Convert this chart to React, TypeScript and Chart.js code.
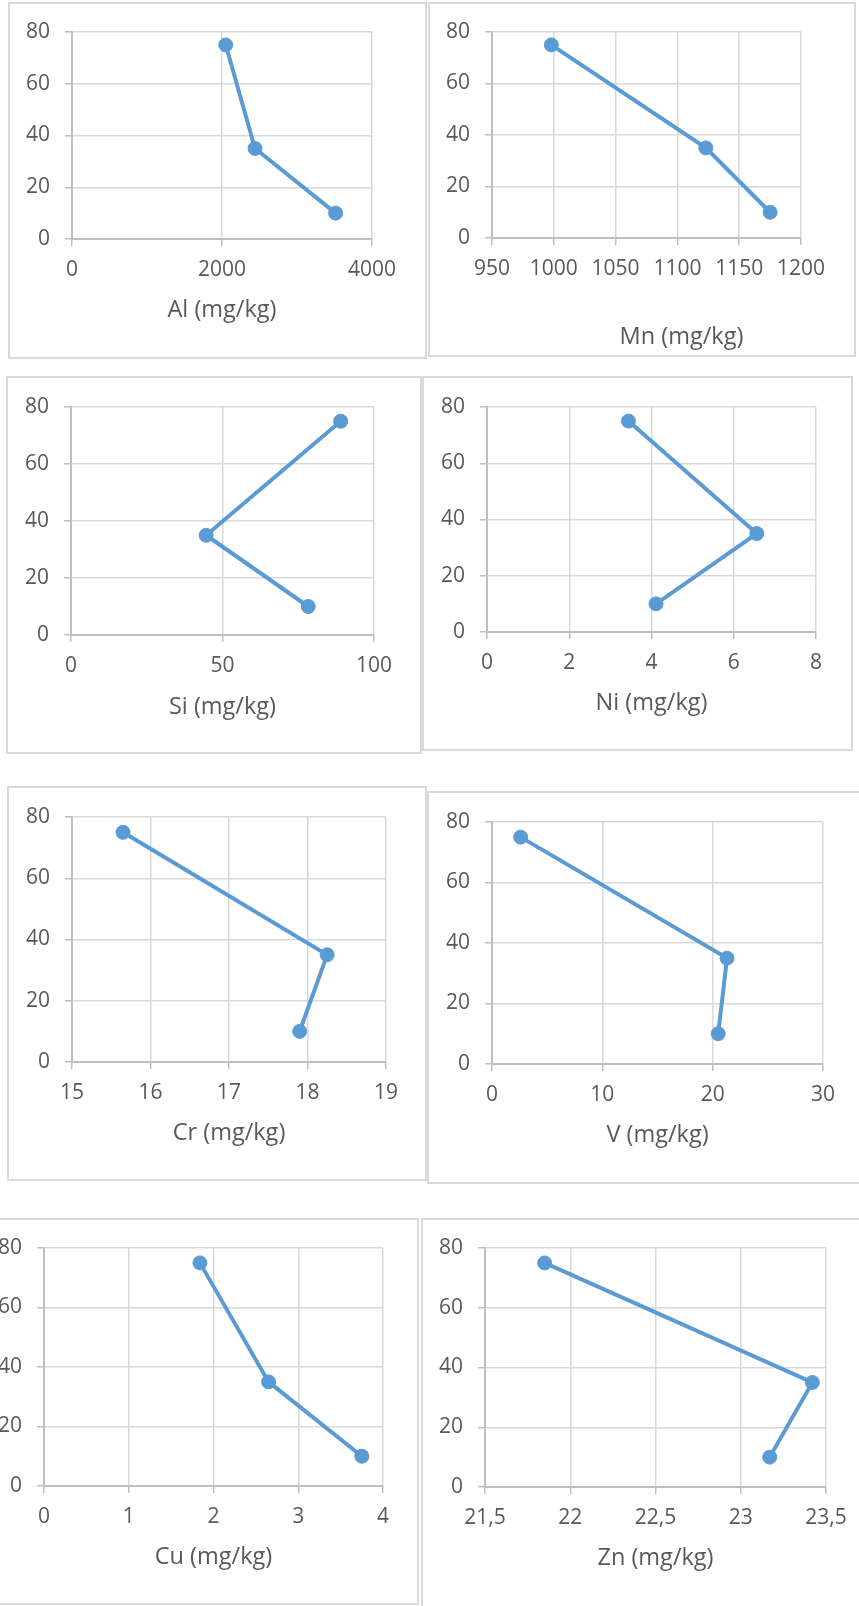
import React, { useEffect, useRef } from "react";
import { Chart, registerables } from "chart.js";

Chart.register(...registerables);

// ---- data ----
const depth = [75, 35, 10];
const depthTicks = [0, 20, 40, 60, 80];

const alValues = [2050, 2440, 3515];
const mnValues = [998, 1123, 1175];
const siValues = [89, 44.6, 78.3];
const niValues = [3.44, 6.56, 4.11];
const crValues = [15.65, 18.25, 17.9];
const vValues = [2.6, 21.3, 20.5];
const cuValues = [1.84, 2.65, 3.75];
const znValues = [21.85, 23.42, 23.17];

const alTicks = [0, 2000, 4000];
const mnTicks = [950, 1000, 1050, 1100, 1150, 1200];
const siTicks = [0, 50, 100];
const niTicks = [0, 2, 4, 6, 8];
const crTicks = [15, 16, 17, 18, 19];
const vTicks = [0, 10, 20, 30];
const cuTicks = [0, 1, 2, 3, 4];
const znTicks = [21.5, 22, 22.5, 23, 23.5];

// ---- styles ----
const BLUE = "#5B9BD5";
const TEXT = "#595959";
const GRID = "#d9d9d9";
const AXIS = "#bfbfbf";
const FONT = '"Open Sans", "Noto Sans", sans-serif';

type PanelCfg = {
  title: string;
  values: number[];
  xTicks: number[];
  box: number[]; // left, top, width, height (page px)
  plot: number[]; // left, top, right, bottom (page px)
  titleY: number;
  titleDx: number;
};

const panels: PanelCfg[] = [
  { title: "Al (mg/kg)", values: alValues, xTicks: alTicks, box: [8, 2, 419, 357], plot: [72, 32, 372, 239], titleY: 310, titleDx: 0 },
  { title: "Mn (mg/kg)", values: mnValues, xTicks: mnTicks, box: [428, 2, 428, 355], plot: [492, 32, 801, 238], titleY: 337, titleDx: 35 },
  { title: "Si (mg/kg)", values: siValues, xTicks: siTicks, box: [6, 376, 416, 378], plot: [71, 407, 374, 635], titleY: 707, titleDx: 0 },
  { title: "Ni (mg/kg)", values: niValues, xTicks: niTicks, box: [422, 376, 431, 375], plot: [487, 407, 816, 632], titleY: 703, titleDx: 0 },
  { title: "Cr (mg/kg)", values: crValues, xTicks: crTicks, box: [7, 786, 420, 395], plot: [72, 817, 386, 1062], titleY: 1133, titleDx: 0 },
  { title: "V (mg/kg)", values: vValues, xTicks: vTicks, box: [427, 791, 500, 393], plot: [492, 822, 823, 1064], titleY: 1135, titleDx: 0 },
  { title: "Cu (mg/kg)", values: cuValues, xTicks: cuTicks, box: [-20, 1218, 439, 387], plot: [44, 1248, 383, 1486], titleY: 1557, titleDx: 0 },
  { title: "Zn (mg/kg)", values: znValues, xTicks: znTicks, box: [421, 1218, 500, 400], plot: [485, 1248, 826, 1487], titleY: 1558, titleDx: 0 },
];

function Panel({ p }: { p: PanelCfg }) {
  const ref = useRef<HTMLCanvasElement | null>(null);

  useEffect(() => {
    if (!ref.current) return;
    const [bx, by, bw, bh] = p.box;
    const [l, t, r, b] = p.plot;

    const titlePlugin = {
      id: "axisTitleText",
      afterDraw(chart: any) {
        const ctx = chart.ctx;
        const ca = chart.chartArea;
        ctx.save();
        ctx.font = `23.5px ${FONT}`;
        ctx.fillStyle = TEXT;
        ctx.textAlign = "center";
        ctx.textBaseline = "middle";
        ctx.fillText(p.title, (ca.left + ca.right) / 2 + p.titleDx, p.titleY - by);
        ctx.restore();
      },
    };

    const fmt = (v: any) => String(v).replace(".", ",");

    const chart = new Chart(ref.current, {
      type: "scatter",
      data: {
        datasets: [
          {
            data: p.values.map((v, i) => ({ x: v, y: depth[i] })),
            showLine: true,
            borderColor: BLUE,
            backgroundColor: BLUE,
            borderWidth: 4,
            pointRadius: 7,
            pointBorderWidth: 1,
            pointBackgroundColor: BLUE,
            pointBorderColor: BLUE,
            clip: false as any,
          },
        ],
      },
      options: {
        animation: false,
        responsive: false,
        maintainAspectRatio: false,
        devicePixelRatio: 1,
        layout: { padding: { top: t - by, right: bx + bw - r, left: 0, bottom: 0 } },
        plugins: { legend: { display: false }, tooltip: { enabled: false } },
        scales: {
          x: {
            type: "linear",
            min: p.xTicks[0],
            max: p.xTicks[p.xTicks.length - 1],
            afterBuildTicks: (s: any) => {
              s.ticks = p.xTicks.map((v) => ({ value: v }));
            },
            afterFit: (s: any) => {
              s.height = by + bh - b;
            },
            ticks: {
              padding: 11,
              color: TEXT,
              font: { family: FONT, size: 21 },
              maxRotation: 0,
              autoSkip: false,
              callback: fmt,
            },
            grid: { color: GRID, lineWidth: 1.5, tickLength: 7, tickColor: AXIS, tickWidth: 1.5, drawTicks: true },
            border: { display: true, color: AXIS, width: 2 },
          },
          y: {
            type: "linear",
            min: depthTicks[0],
            max: depthTicks[depthTicks.length - 1],
            afterBuildTicks: (s: any) => {
              s.ticks = depthTicks.map((v) => ({ value: v }));
            },
            afterFit: (s: any) => {
              s.width = l - bx;
            },
            ticks: {
              padding: 15,
              color: TEXT,
              font: { family: FONT, size: 21 },
              autoSkip: false,
              callback: fmt,
            },
            grid: { color: GRID, lineWidth: 1.5, tickLength: 7, tickColor: AXIS, tickWidth: 1.5, drawTicks: true },
            border: { display: true, color: AXIS, width: 2 },
          },
        },
      } as any,
      plugins: [titlePlugin],
    });
    return () => chart.destroy();
  }, []);

  const [bx, by, bw, bh] = p.box;
  return (
    <>
      <canvas
        ref={ref}
        width={bw}
        height={bh}
        style={{ position: "absolute", left: bx, top: by, width: bw, height: bh }}
      />
      <div
        style={{
          position: "absolute",
          left: bx,
          top: by,
          width: bw,
          height: bh,
          border: `2px solid ${GRID}`,
          boxSizing: "border-box",
          pointerEvents: "none",
        }}
      />
    </>
  );
}

export default function App() {
  return (
    <div
      style={{
        position: "absolute",
        left: 0,
        top: 0,
        width: 859,
        height: 1606,
        overflow: "hidden",
        background: "#ffffff",
      }}
    >
      {panels.map((p) => (
        <Panel key={p.title} p={p} />
      ))}
    </div>
  );
}
